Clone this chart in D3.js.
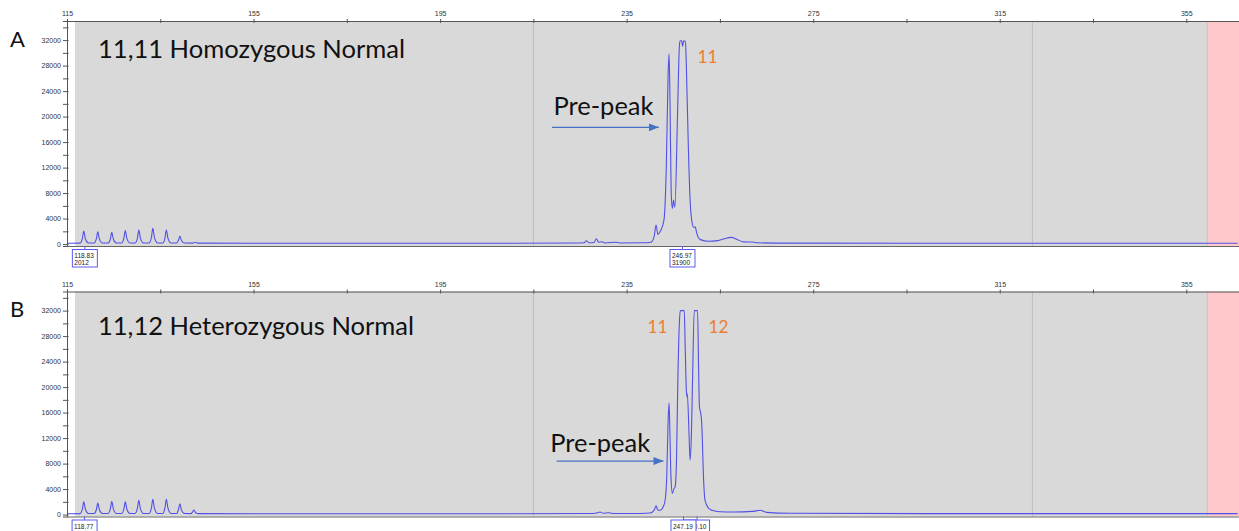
<!DOCTYPE html>
<html>
<head>
<meta charset="utf-8">
<script src="https://cdn.jsdelivr.net/npm/d3@7"></script>
<style>
  body { margin: 0; background: #fff; }
  svg { display: block; }
  .tick text { font-family: Arial, "Liberation Sans", sans-serif; fill: #333; }
  .note { font-family: Lato, "Open Sans", sans-serif; }
</style>
</head>
<body>
<svg id="chart"></svg>
<script>
'use strict'

// axis ticks (base pairs on top, RFU on the left)
const xTicks = [115, 135, 155, 175, 195, 215, 235, 255, 275, 295, 315, 335, 355]
const xLabels = [115, 155, 195, 235, 275, 315, 355]
const yTicks = [0, 2000, 4000, 6000, 8000, 10000, 12000, 14000, 16000, 18000, 20000, 22000, 24000, 26000, 28000, 30000, 32000, 34000]
const yLabels = [0, 4000, 8000, 12000, 16000, 20000, 24000, 28000, 32000]
const binLines = [215, 322]
const plotStart = 116.7, pinkStart = 359.5

// [size in bp, RFU]
const traceA = [
    [115.0, 120], [117.8, 150], [118.3, 900], [118.6, 2040], [118.95, 800], [119.6, 180],
    [120.8, 170], [121.3, 850], [121.6, 1940], [121.95, 780], [122.6, 180],
    [123.8, 170], [124.3, 800], [124.6, 1830], [124.95, 750], [125.6, 180],
    [126.7, 170], [127.2, 950], [127.5, 2140], [127.85, 850], [128.5, 180],
    [129.6, 170], [130.1, 950], [130.4, 2200], [130.75, 900], [131.4, 180],
    [132.6, 170], [133.1, 1050], [133.4, 2460], [133.75, 1000], [134.4, 180],
    [135.5, 170], [136.0, 950], [136.3, 2200], [136.65, 900], [137.3, 180],
    [138.5, 170], [138.9, 600], [139.2, 1260], [139.55, 550], [140.2, 160],
    [142.0, 150], [142.5, 300], [143.0, 150],
    [160, 120], [200, 130], [224, 160], [225.8, 200], [226.4, 520], [226.9, 220],
    [228.0, 250], [228.5, 840], [229.0, 300], [229.7, 370], [230.3, 180], [232.7, 300], [233.5, 170],
    [238.5, 200], [240.2, 300], [240.9, 1200], [241.3, 2990], [241.7, 1500], [242.2, 2000],
    [243.0, 3770], [243.5, 12000], [243.9, 27000], [244.1, 29850], [244.3, 22000], [244.55, 8000],
    [244.8, 5600], [245.05, 6900], [245.35, 5800], [245.9, 20000], [246.3, 31000], [246.45, 31900],
    [246.8, 31900], [247.0, 31000], [247.2, 31900], [247.6, 31800], [247.8, 28000], [248.2, 16000],
    [248.6, 7000], [249.0, 3500], [249.4, 2600], [249.7, 2720], [250.0, 1800], [250.8, 700],
    [252.5, 450], [254.5, 550], [256.0, 850], [257.4, 1050], [258.6, 750], [260, 350],
    [262, 320], [263, 200], [270, 150], [300, 130], [366, 130]
]

const traceB = [
    [115.0, 120], [117.8, 150], [118.3, 900], [118.6, 2000], [118.95, 800], [119.6, 180],
    [120.8, 170], [121.3, 800], [121.6, 1800], [121.95, 750], [122.6, 180],
    [123.8, 170], [124.3, 900], [124.6, 2100], [124.95, 850], [125.6, 180],
    [126.7, 170], [127.2, 900], [127.5, 2000], [127.85, 800], [128.5, 180],
    [129.6, 170], [130.1, 1000], [130.4, 2250], [130.75, 900], [131.4, 180],
    [132.6, 170], [133.1, 1050], [133.4, 2400], [133.75, 1000], [134.4, 180],
    [135.5, 170], [136.0, 1050], [136.3, 2400], [136.65, 1000], [137.3, 180],
    [138.5, 170], [138.9, 800], [139.2, 1700], [139.55, 700], [140.2, 160],
    [141.6, 150], [141.9, 400], [142.2, 700], [142.6, 300], [143.2, 150],
    [160, 120], [200, 130], [227, 160], [228.6, 250], [229.3, 410], [230.0, 200], [231.1, 300], [232, 170],
    [236, 170], [240.0, 250], [240.9, 700], [241.3, 1360], [241.7, 700], [242.2, 680],
    [243.0, 1500], [243.3, 2520], [243.6, 6000], [243.9, 15000], [244.1, 17500], [244.3, 12000],
    [244.5, 6000], [244.8, 3300], [245.1, 4000], [245.4, 4350], [245.7, 9000], [245.95, 20000],
    [246.3, 30000], [246.5, 32000], [247.35, 32000], [247.55, 26400], [247.8, 19500], [247.9, 18500],
    [248.0, 19000], [248.4, 12200], [248.6, 8560], [248.9, 13000], [249.1, 20000], [249.5, 32000],
    [250.2, 32000], [250.45, 22000], [250.6, 16950], [250.8, 16200], [250.9, 15900], [251.1, 14300],
    [251.5, 5400], [251.8, 2250], [252.5, 1050], [253.3, 680], [255, 450], [258, 400],
    [262, 500], [263.6, 680], [265, 350], [270, 200], [300, 150], [366, 150]
]

// sized peak call-outs under each panel
const peakLabelsA = [
    { bp: 118.83, size: '118.83', height: '2012' },
    { bp: 246.97, size: '246.97', height: '31900' }
]
const peakLabelsB = [
    { bp: 118.77, size: '118.77', height: '' },
    { bp: 250.10, size: '250.10', height: '' },
    { bp: 247.19, size: '247.19', height: '' }
]

// allele numbers and pre-peak arrows, placed in bp / RFU
const allelesA = [{ text: '11', bp: 250.2, rfu: 28360 }]
const allelesB = [{ text: '11', bp: 239.46, rfu: 28540 }, { text: '12', bp: 252.55, rfu: 28540 }]
const prePeakA = { textBp: 219.3, textRfu: 20200, fromBp: 219.0, toBp: 241.9, rfu: 18320 }
const prePeakB = { textBp: 218.6, textRfu: 9770, fromBp: 220.0, toBp: 242.9, rfu: 8400 }

const width = 1239, height = 531
const plotH = 225

const panels = [
    { letter: 'A', title: '11,11 Homozygous Normal', titleW: 307, top: 21, titleY: 58.3, letterY: 46.7,
      trace: traceA, labels: peakLabelsA, alleles: allelesA, pre: prePeakA },
    { letter: 'B', title: '11,12 Heterozygous Normal', titleW: 316, top: 291.5, titleY: 335, letterY: 316.7,
      trace: traceB, labels: peakLabelsB, alleles: allelesB, pre: prePeakB }
]

const svg = d3.select('#chart').attr('width', width).attr('height', height)

svg.append('defs').append('marker')
    .attr('id', 'arrow')
    .attr('markerUnits', 'userSpaceOnUse')
    .attr('markerWidth', 10).attr('markerHeight', 8)
    .attr('refX', 10).attr('refY', 4)
    .attr('orient', 'auto')
    .append('path')
    .attr('d', 'M0,0 L10,4 L0,8 Z')
    .attr('fill', '#4472c4')

const x = d3.scaleLinear().domain([115, 366.3]).range([67, width])

panels.forEach(p => {
    const y = d3.scaleLinear().domain([-300, 35000]).range([p.top + plotH, p.top])
    const g = svg.append('g')

    g.append('rect')
        .attr('x', x(plotStart)).attr('y', p.top)
        .attr('width', x(pinkStart) - x(plotStart)).attr('height', plotH)
        .attr('fill', '#d9d9d9')
    g.append('rect')
        .attr('x', x(pinkStart)).attr('y', p.top)
        .attr('width', width - x(pinkStart)).attr('height', plotH)
        .attr('fill', '#ffc8ca')

    g.selectAll('.bin').data(binLines).join('line')
        .attr('x1', d => x(d)).attr('x2', d => x(d))
        .attr('y1', p.top).attr('y2', p.top + plotH)
        .attr('stroke', '#bdbdbd')

    // faint separator at pink boundary
    g.append('line')
        .attr('x1', x(pinkStart)).attr('x2', x(pinkStart))
        .attr('y1', p.top).attr('y2', p.top + plotH)
        .attr('stroke', '#e8b4b6')

    const line = d3.line()
        .x(d => x(d[0]))
        .y(d => y(d[1]))
        .curve(d3.curveMonotoneX)
    g.append('path').datum(p.trace)
        .attr('d', line)
        .attr('fill', 'none')
        .attr('stroke', '#5050e6')
        .attr('stroke-width', 1.1)

    // bottom line
    g.append('line')
        .attr('x1', x(115)).attr('x2', width)
        .attr('y1', p.top + plotH + 0.5).attr('y2', p.top + plotH + 0.5)
        .attr('stroke', '#666')

    const xAxis = g.append('g')
        .attr('transform', `translate(0,${p.top})`)
        .call(d3.axisTop(x).tickValues(xTicks).tickSizeOuter(0).tickSize(2).tickPadding(3)
            .tickFormat(d => xLabels.includes(d) ? d : ''))
    xAxis.select('.domain').attr('stroke', '#555')
    xAxis.selectAll('.tick line').attr('y1', 2).attr('stroke', '#555')
    xAxis.selectAll('.tick text').attr('font-size', 7)

    const yAxis = g.append('g')
        .attr('transform', `translate(${x(115)},0)`)
        .call(d3.axisLeft(y).tickValues(yTicks).tickSizeOuter(0).tickSize(4).tickPadding(2)
            .tickFormat(d => yLabels.includes(d) ? d : ''))
    yAxis.select('.domain').attr('stroke', '#555')
    yAxis.selectAll('.tick line').attr('x1', 1.5).attr('stroke', '#555')
    yAxis.selectAll('.tick text').attr('font-size', 7)

    // peak size call-outs
    const lab = g.selectAll('.peakLabel').data(p.labels).join('g')
        .attr('transform', d => `translate(${x(d.bp)},${p.top + plotH})`)
    lab.append('line')
        .attr('y1', 0).attr('y2', 3.5)
        .attr('stroke', '#5a5af0')
    lab.append('rect')
        .attr('x', -12.5).attr('y', 3.5)
        .attr('width', 25).attr('height', 17.5)
        .attr('fill', '#fff')
        .attr('stroke', '#5a5af0')
    lab.append('text')
        .attr('x', -10.5).attr('y', 12)
        .attr('font-family', 'Arial, "Liberation Sans", sans-serif')
        .attr('font-size', 6.5).attr('fill', '#222')
        .text(d => d.size)
    lab.append('text')
        .attr('x', -10.5).attr('y', 19.3)
        .attr('font-family', 'Arial, "Liberation Sans", sans-serif')
        .attr('font-size', 6.5).attr('fill', '#222')
        .text(d => d.height)

    // panel letter and title
    g.append('text').classed('note', true)
        .attr('x', 10).attr('y', p.letterY)
        .attr('font-size', 22).attr('fill', '#111')
        .text(p.letter)
    g.append('text').classed('note', true)
        .attr('x', 98).attr('y', p.titleY)
        .attr('font-size', 25).attr('fill', '#111')
        .attr('textLength', p.titleW).attr('lengthAdjust', 'spacingAndGlyphs')
        .text(p.title)

    g.selectAll('.allele').data(p.alleles).join('text').classed('note', true)
        .attr('x', d => x(d.bp)).attr('y', d => y(d.rfu))
        .attr('font-size', 18).attr('fill', '#ed7d31')
        .attr('textLength', 20).attr('lengthAdjust', 'spacingAndGlyphs')
        .text(d => d.text)

    g.append('text').classed('note', true)
        .attr('x', x(p.pre.textBp)).attr('y', y(p.pre.textRfu))
        .attr('font-size', 25).attr('fill', '#111')
        .attr('textLength', 100).attr('lengthAdjust', 'spacingAndGlyphs')
        .text('Pre-peak')
    g.append('line')
        .attr('x1', x(p.pre.fromBp)).attr('x2', x(p.pre.toBp))
        .attr('y1', y(p.pre.rfu)).attr('y2', y(p.pre.rfu))
        .attr('stroke', '#4472c4').attr('stroke-width', 1.2)
        .attr('marker-end', 'url(#arrow)')
})
</script>
</body>
</html>
